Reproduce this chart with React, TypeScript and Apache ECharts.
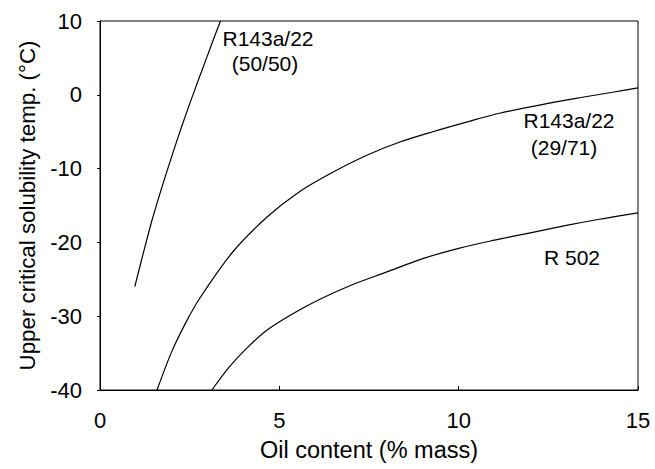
import React, { useEffect, useRef } from "react";
import * as echarts from "echarts";

// Oil content (% mass) and upper critical solubility temperature (°C)
const curve5050X = [0.97, 1.2, 1.45, 1.74, 2.03, 2.27, 2.51, 2.75, 2.98, 3.17, 3.36];
const curve5050Y = [-26, -21.6, -17.0, -12.3, -7.9, -4.4, -1.1, 2.1, 5.1, 7.6, 10];

const curve2971X = [1.59, 2.0, 2.4, 2.79, 3.7, 4.65, 5.57, 6.49, 7.44, 8.36, 9.28, 10.22, 11.14, 12.45, 13.37, 14.29, 15];
const curve2971Y = [-40, -34.8, -30.8, -27.5, -21.3, -16.6, -13.1, -10.5, -8.2, -6.4, -5.0, -3.7, -2.5, -1.2, -0.4, 0.35, 0.95];

const r502X = [3.12, 3.6, 4.1, 4.65, 5.4, 6.13, 7.0, 8.0, 9.0, 10.0, 11.0, 12.0, 13.0, 14.0, 15];
const r502Y = [-40, -36.9, -34.3, -31.9, -29.6, -27.7, -25.8, -24.0, -22.2, -20.8, -19.7, -18.7, -17.7, -16.8, -16.0];

const xTicks = [0, 5, 10, 15];
const yTicks = [-40, -30, -20, -10, 0, 10];

const seriesNames = ["R143a/22 (50/50)", "R143a/22 (29/71)", "R 502"];

const FONT = "'Liberation Sans', Arial, sans-serif";

function pairs(xs: number[], ys: number[]) {
  return xs.map((x, i) => [x, ys[i]]);
}

export default function App() {
  const ref = useRef<HTMLDivElement>(null);

  useEffect(() => {
    document.body.style.margin = "0";
    if (!ref.current) return;
    const chart = echarts.init(ref.current, undefined, { renderer: "svg" });
    const lineStyle = { color: "#000", width: 1.2 };
    const mk = (name: string, xs: number[], ys: number[]) => ({
      name,
      type: "line",
      data: pairs(xs, ys),
      smooth: 0.3,
      showSymbol: false,
      symbol: "none",
      lineStyle,
      silent: true,
    });
    const txt = (text: string, x: number, y: number) => ({
      type: "text",
      x,
      y,
      style: { text, font: `21px ${FONT}`, fill: "#000", textAlign: "center", textVerticalAlign: "middle" },
    });
    chart.setOption({
      animation: false,
      backgroundColor: "#fff",
      grid: {
        left: 100,
        right: 17,
        top: 21,
        bottom: 79,
        show: true,
        borderColor: "#000",
        borderWidth: 1,
        backgroundColor: "transparent",
      },
      xAxis: {
        type: "value",
        min: xTicks[0],
        max: xTicks[xTicks.length - 1],
        interval: 5,
        name: "Oil content (% mass)",
        nameLocation: "middle",
        nameGap: 48,
        nameTextStyle: { fontFamily: FONT, fontSize: 23.5, color: "#000" },
        axisLine: { show: true, onZero: false, lineStyle: { color: "#000", width: 1 } },
        axisTick: { show: true, inside: true, length: 4, lineStyle: { color: "#000" } },
        axisLabel: { fontFamily: FONT, fontSize: 22, color: "#000", margin: 19 },
        splitLine: { show: false },
      },
      yAxis: {
        type: "value",
        min: yTicks[0],
        max: yTicks[yTicks.length - 1],
        interval: 10,
        name: "Upper critical solubility temp. (°C)",
        nameLocation: "middle",
        nameGap: 62,
        nameRotate: 90,
        nameTextStyle: { fontFamily: FONT, fontSize: 22.3, color: "#000" },
        axisLine: { show: true, onZero: false, lineStyle: { color: "#000", width: 1 } },
        axisTick: { show: true, inside: false, length: 3, lineStyle: { color: "#000" } },
        axisLabel: { fontFamily: FONT, fontSize: 22, color: "#000", margin: 18 },
        splitLine: { show: false },
      },
      series: [
        mk(seriesNames[0], curve5050X, curve5050Y),
        mk(seriesNames[1], curve2971X, curve2971Y),
        mk(seriesNames[2], r502X, r502Y),
      ],
      graphic: [
        txt("R143a/22", 268, 38),
        txt("(50/50)", 265, 63),
        txt("R143a/22", 569, 120),
        txt("(29/71)", 564, 147),
        txt("R 502", 572, 257),
      ],
    });
    return () => chart.dispose();
  }, []);

  return <div ref={ref} style={{ width: 655, height: 469 }} />;
}
